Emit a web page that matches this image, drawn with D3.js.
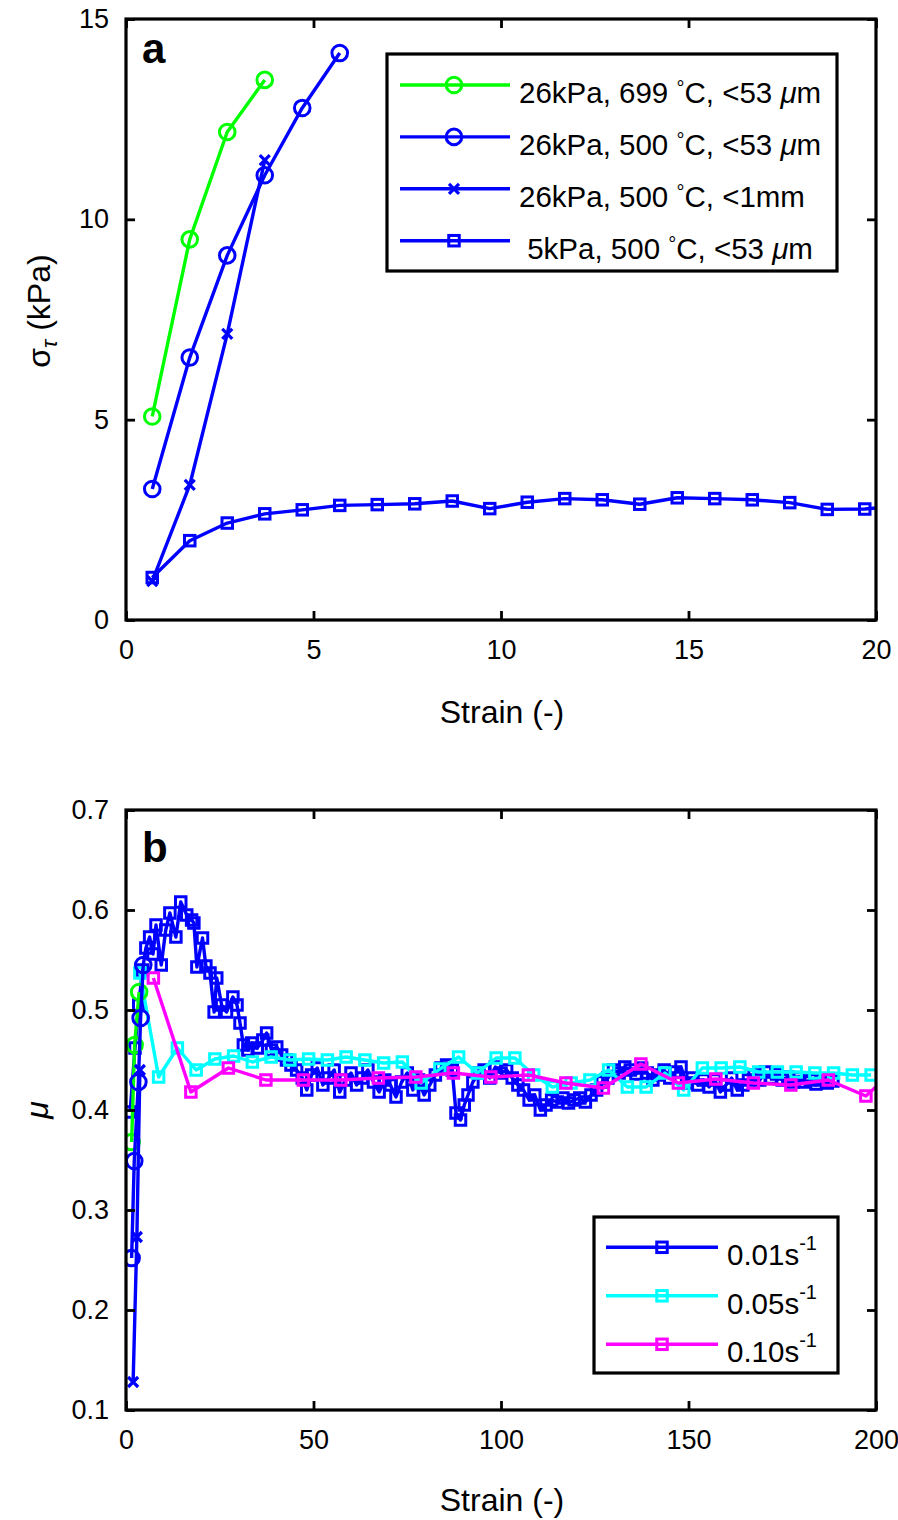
<!DOCTYPE html>
<html><head><meta charset="utf-8">
<script src="https://cdn.jsdelivr.net/npm/d3@7"></script>
<style>
body{margin:0;background:#fff;}
svg{display:block;font-family:"Liberation Sans",Arial,Helvetica,sans-serif;}
</style></head><body>
<svg id="chart" width="898" height="1520"></svg>
<script>
// ---------------- Panel a data ----------------
const aXTicks = [0, 5, 10, 15, 20];
const aYTicks = [0, 5, 10, 15];
const aGreenX = [0.7, 1.7, 2.7, 3.7];
const aGreenY = [5.08, 9.5, 12.18, 13.48];
const aCircX = [0.7, 1.7, 2.7, 3.7, 4.7, 5.7];
const aCircY = [3.27, 6.55, 9.1, 11.1, 12.78, 14.15];
const aCrossX = [0.7, 1.7, 2.7, 3.7];
const aCrossY = [0.97, 3.37, 7.14, 11.48];
const aSqX = [0.7, 1.7, 2.7, 3.7, 4.7, 5.7, 6.7, 7.7, 8.7, 9.7, 10.7, 11.7, 12.7, 13.7, 14.7, 15.7, 16.7, 17.7, 18.7, 19.7, 20.7];
const aSqY = [1.06, 1.98, 2.42, 2.65, 2.75, 2.86, 2.88, 2.9, 2.97, 2.78, 2.94, 3.03, 3.0, 2.89, 3.05, 3.03, 3.0, 2.93, 2.76, 2.77, 2.85];
const aLegend = ["26kPa, 699 °C, <53 μm", "26kPa, 500 °C, <53 μm", "26kPa, 500 °C, <1mm", " 5kPa, 500 °C, <53 μm"];

// ---------------- Panel b data ----------------
const bXTicks = [0, 50, 100, 150, 200];
const bYTicks = [0.1, 0.2, 0.3, 0.4, 0.5, 0.6, 0.7];
const bBlueX = [1.1,2.4,3.4,4.4,5.3,6.3,7.2,8.0,9.4,10.6,
  11.7,13.3,14.6,16.2,17.5,18.1,18.9,20.4,21.3,22.4,
  23.5,24.2,25.5,26.8,28.5,29.6,30.4,31.3,32.5,33.5,
  35,36.5,37.5,38.8,40.2,41.5,42.8,44,45.5,47,
  48.2,49.5,51,52.5,54,55.5,57,58.5,60,61.5,
  63,64.5,66,67.5,69,70.5,72,73.5,75,76.5,
  78,79.5,81,82.5,84,85.5,87,88,89.2,90.2,
  91.2,92.5,94,95.5,97,98.5,100,101.5,103,104.5,
  106,107.5,109,110.5,112,113.5,115,116.5,118,119.5,
  121,122.5,124,125.5,127,128.5,130,131.5,133,134.5,
  136,137.5,139,140.5,142,143.5,145,146.5,148,149.5,
  151,152.5,154,155.5,157,158.5,160,161.5,163,164.5,
  166,167.5,169,170.5,172,173.5,175,176.5,178,179.5,
  181,182.5,184,185.5,187,188.5];
const bBlueY = [0.398,0.462,0.505,0.540,0.562,0.573,0.556,0.585,0.545,0.580,
  0.597,0.573,0.608,0.595,0.590,0.587,0.543,0.572,0.544,0.537,
  0.498,0.532,0.505,0.498,0.513,0.505,0.487,0.465,0.460,0.467,
  0.462,0.470,0.477,0.460,0.463,0.455,0.450,0.445,0.440,0.432,
  0.420,0.435,0.442,0.425,0.432,0.440,0.418,0.430,0.437,0.425,
  0.432,0.440,0.428,0.418,0.430,0.425,0.413,0.428,0.437,0.420,
  0.430,0.415,0.425,0.435,0.442,0.445,0.440,0.397,0.390,0.405,
  0.415,0.428,0.437,0.440,0.432,0.443,0.437,0.440,0.432,0.425,
  0.420,0.410,0.415,0.400,0.405,0.410,0.408,0.412,0.407,0.410,
  0.412,0.408,0.415,0.420,0.428,0.432,0.440,0.437,0.443,0.440,
  0.436,0.442,0.437,0.430,0.435,0.440,0.432,0.438,0.443,0.427,
  0.432,0.425,0.430,0.423,0.430,0.418,0.425,0.432,0.420,0.425,
  0.430,0.435,0.430,0.438,0.432,0.436,0.430,0.433,0.428,0.432,
  0.428,0.430,0.426,0.430,0.427,0.429];
const bCyanX = [3.7,8.7,13.7,18.7,23.7,28.7,33.7,38.7,43.7,48.7,
  53.7,58.7,63.7,68.7,73.7,78.7,83.7,88.7,93.7,98.7,
  103.7,108.7,113.7,118.7,123.7,128.7,133.7,138.7,143.7,148.7,
  153.7,158.7,163.7,168.7,173.7,178.7,183.7,188.7,193.7,198.7];
const bCyanY = [0.537,0.433,0.462,0.440,0.451,0.454,0.448,0.453,0.450,0.451,
  0.450,0.453,0.450,0.447,0.448,0.427,0.441,0.453,0.437,0.452,
  0.452,0.435,0.423,0.427,0.430,0.440,0.423,0.423,0.437,0.420,
  0.442,0.442,0.443,0.438,0.438,0.438,0.437,0.437,0.435,0.435];
const bMagX = [7.3,17.3,27.3,37.3,47.3,57.3,67.3,77.3,87.3,97.3,
  107.3,117.3,127.3,137.3,147.3,157.3,167.3,177.3,187.3,197.3,207.3];
const bMagY = [0.532,0.418,0.442,0.430,0.430,0.430,0.432,0.433,0.437,0.433,
  0.435,0.427,0.422,0.446,0.427,0.431,0.427,0.425,0.430,0.414,0.448];
const bGreenX = [1.5, 2.3, 3.5];
const bGreenY = [0.368, 0.465, 0.518];
const bCircX = [1.5, 2.2, 3.3, 3.9, 4.6];
const bCircY = [0.252, 0.349, 0.428, 0.492, 0.545];
const bCrossX = [1.9, 2.9, 3.7];
const bCrossY = [0.128, 0.273, 0.44];
const bLegend = ["0.01s", "0.05s", "0.10s"];

// ---------------- styles ----------------
const GREEN = "#00ff00", BLUE = "#0000ff", CYAN = "#00ffff", MAG = "#ff00ff";
const LW = 3.4;
const TICKFONT = 27, LABELFONT = 32, LEGFONT = 29.5;

const svg = d3.select("#chart");
svg.append("rect").attr("width", 898).attr("height", 1520).attr("fill", "#fff");

const L = 126, R = 876;
const panels = {
  a: {top: 19, bottom: 620},
  b: {top: 810, bottom: 1410}
};
const xA = d3.scaleLinear().domain([0, 20]).range([L, R]);
const yA = d3.scaleLinear().domain([0, 15]).range([panels.a.bottom, panels.a.top]);
const xB = d3.scaleLinear().domain([0, 200]).range([L, R]);
const yB = d3.scaleLinear().domain([0.1, 0.7]).range([panels.b.bottom, panels.b.top]);

const defs = svg.append("defs");
function clip(id, top, bottom) {
  defs.append("clipPath").attr("id", id).append("rect")
    .attr("x", L).attr("y", top).attr("width", R - L).attr("height", bottom - top);
}
clip("clipA", panels.a.top, panels.a.bottom);
clip("clipB", panels.b.top, panels.b.bottom);

function marker(g, type, cx, cy, color) {
  if (type === "o") {
    g.append("circle").attr("cx", cx).attr("cy", cy).attr("r", 7.8)
      .attr("fill", "none").attr("stroke", color).attr("stroke-width", 3);
  } else if (type === "s") {
    const s = 10.5;
    g.append("rect").attr("x", cx - s / 2).attr("y", cy - s / 2).attr("width", s).attr("height", s)
      .attr("fill", "none").attr("stroke", color).attr("stroke-width", 3);
  } else if (type === "x") {
    const s = 5;
    g.append("path").attr("d", `M${cx - s},${cy - s}L${cx + s},${cy + s}M${cx - s},${cy + s}L${cx + s},${cy - s}`)
      .attr("stroke", color).attr("stroke-width", 3.2).attr("fill", "none");
  }
}

function series(g, xs, ys, xScale, yScale, color, type) {
  const pts = xs.map((x, i) => [xScale(x), yScale(ys[i])]);
  g.append("path").attr("d", d3.line()(pts)).attr("fill", "none")
    .attr("stroke", color).attr("stroke-width", LW).attr("stroke-linejoin", "round");
  const mg = g.append("g");
  pts.forEach(p => marker(mg, type, p[0], p[1], color));
}

function axes(xScale, yScale, xTicks, yTicks, top, bottom, yFmt) {
  const g = svg.append("g");
  const TS = 9;
  const bx = g.append("g").attr("transform", `translate(0,${bottom})`)
    .call(d3.axisBottom(xScale).tickValues(xTicks).tickSizeInner(-TS).tickSizeOuter(0).tickPadding(20).tickFormat(d3.format("d")));
  const tx = g.append("g").attr("transform", `translate(0,${top})`)
    .call(d3.axisTop(xScale).tickValues(xTicks).tickSizeInner(-TS).tickSizeOuter(0).tickFormat(""));
  const ly = g.append("g").attr("transform", `translate(${L},0)`)
    .call(d3.axisLeft(yScale).tickValues(yTicks).tickSizeInner(-TS).tickSizeOuter(0).tickPadding(17).tickFormat(yFmt));
  const ry = g.append("g").attr("transform", `translate(${R},0)`)
    .call(d3.axisRight(yScale).tickValues(yTicks).tickSizeInner(-TS).tickSizeOuter(0).tickFormat(""));
  [bx, tx, ly, ry].forEach(a => {
    a.select(".domain").remove();
    a.selectAll("line").attr("stroke", "#000").attr("stroke-width", 2.8);
    a.selectAll("text").attr("font-family", '"Liberation Sans",Arial,sans-serif')
      .attr("font-size", TICKFONT).attr("fill", "#000");
  });
  g.append("rect").attr("x", L).attr("y", top).attr("width", R - L).attr("height", bottom - top)
    .attr("fill", "none").attr("stroke", "#000").attr("stroke-width", 3.2);
  return g;
}

// ---------------- Panel a ----------------
const gA = svg.append("g").attr("clip-path", "url(#clipA)");
series(gA, aGreenX, aGreenY, xA, yA, GREEN, "o");
series(gA, aCircX, aCircY, xA, yA, BLUE, "o");
series(gA, aCrossX, aCrossY, xA, yA, BLUE, "x");
series(gA, aSqX, aSqY, xA, yA, BLUE, "s");
axes(xA, yA, aXTicks, aYTicks, panels.a.top, panels.a.bottom, d3.format("d"));

svg.append("text").attr("x", 142).attr("y", 63).attr("font-size", 42).attr("font-weight", "bold").text("a");
svg.append("text").attr("x", 502).attr("y", 723).attr("text-anchor", "middle").attr("font-size", LABELFONT).text("Strain (-)");
const yla = svg.append("text").attr("transform", "translate(50,311) rotate(-90)").attr("text-anchor", "middle").attr("font-size", LABELFONT);
yla.append("tspan").text("σ");
yla.append("tspan").attr("font-size", 22).attr("dy", 7).attr("font-style", "italic").text("τ");
yla.append("tspan").attr("dy", -7).text(" (kPa)");

// legend a
const legA = svg.append("g");
legA.append("rect").attr("x", 387).attr("y", 54).attr("width", 450).attr("height", 217)
  .attr("fill", "#fff").attr("stroke", "#000").attr("stroke-width", 3.2);
const legAItems = [
  {color: GREEN, type: "o"}, {color: BLUE, type: "o"}, {color: BLUE, type: "x"}, {color: BLUE, type: "s"}
];
const legAY = d3.scaleLinear().domain([0, 3]).range([85, 240.7]);
legAItems.forEach((it, i) => {
  const y = legAY(i);
  legA.append("line").attr("x1", 400).attr("x2", 510).attr("y1", y).attr("y2", y)
    .attr("stroke", it.color).attr("stroke-width", LW);
  marker(legA, it.type, 454, y, it.color);
  const label = aLegend[i];
  const parts = label.split("°");
  const t = legA.append("text").attr("x", 519).attr("y", y + 18).attr("font-size", LEGFONT)
    .attr("xml:space", "preserve").style("white-space", "pre");
  t.append("tspan").text(parts[0]);
  t.append("tspan").attr("font-size", 20).attr("dy", -8).text("°");
  const rest = parts[1];
  const mu = rest.indexOf("μ");
  if (mu >= 0) {
    t.append("tspan").attr("dy", 8).text(rest.slice(0, mu));
    t.append("tspan").attr("font-style", "italic").text("μ");
    t.append("tspan").text(rest.slice(mu + 1));
  } else {
    t.append("tspan").attr("dy", 8).text(rest);
  }
});

// ---------------- Panel b ----------------
const gB = svg.append("g").attr("clip-path", "url(#clipB)");
series(gB, bBlueX, bBlueY, xB, yB, BLUE, "s");
series(gB, bCyanX, bCyanY, xB, yB, CYAN, "s");
series(gB, bMagX, bMagY, xB, yB, MAG, "s");
series(gB, bGreenX, bGreenY, xB, yB, GREEN, "o");
series(gB, bCircX, bCircY, xB, yB, BLUE, "o");
series(gB, bCrossX, bCrossY, xB, yB, BLUE, "x");
axes(xB, yB, bXTicks, bYTicks, panels.b.top, panels.b.bottom, d3.format(".1f"));

svg.append("text").attr("x", 142).attr("y", 862).attr("font-size", 42).attr("font-weight", "bold").text("b");
svg.append("text").attr("x", 502).attr("y", 1511).attr("text-anchor", "middle").attr("font-size", LABELFONT).text("Strain (-)");
svg.append("text").attr("transform", "translate(48,1110) rotate(-90)").attr("text-anchor", "middle")
  .attr("font-size", LABELFONT).attr("font-style", "italic").text("μ");

// legend b
const legB = svg.append("g");
legB.append("rect").attr("x", 594).attr("y", 1217).attr("width", 244).attr("height", 156)
  .attr("fill", "#fff").attr("stroke", "#000").attr("stroke-width", 3.2);
const legBColors = [BLUE, CYAN, MAG];
const legBY = d3.scaleLinear().domain([0, 2]).range([1247.3, 1344.3]);
legBColors.forEach((c, i) => {
  const y = legBY(i);
  legB.append("line").attr("x1", 606).attr("x2", 718).attr("y1", y).attr("y2", y)
    .attr("stroke", c).attr("stroke-width", LW);
  marker(legB, "s", 662, y, c);
  const t = legB.append("text").attr("x", 727).attr("y", y + 18).attr("font-size", LEGFONT);
  t.append("tspan").text(bLegend[i]);
  t.append("tspan").attr("font-size", 20).attr("dy", -15).text("-1");
});
</script>
</body></html>
